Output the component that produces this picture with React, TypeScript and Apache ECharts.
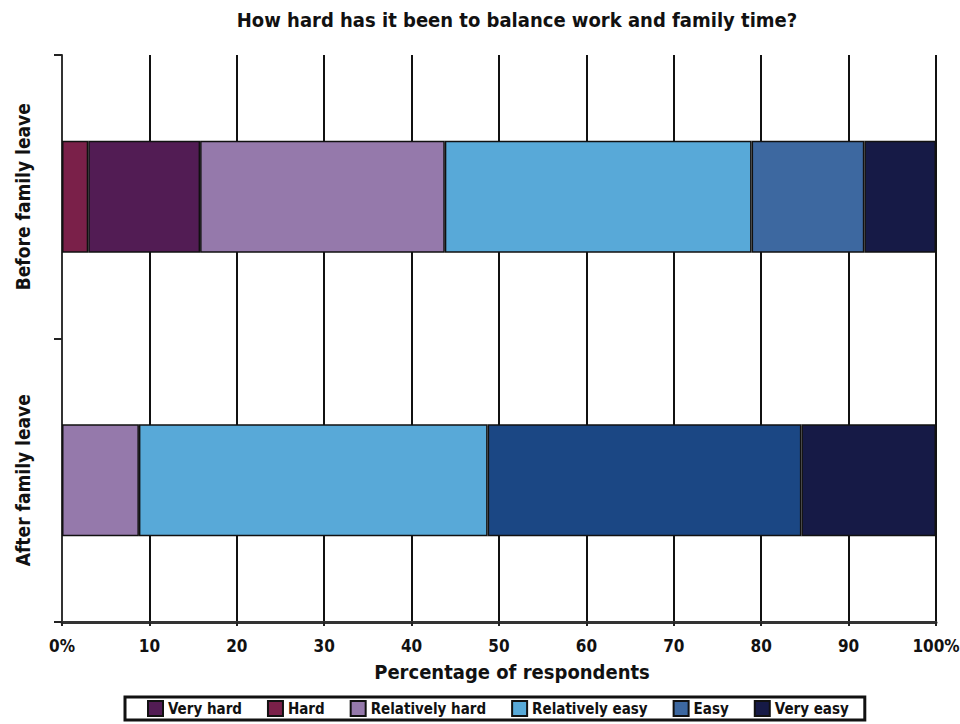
import React, { useEffect, useRef } from "react";
import * as echarts from "echarts";

const categories = ["Before family leave", "After family leave"];
const legendOrder = ["Very hard", "Hard", "Relatively hard", "Relatively easy", "Easy", "Very easy"];
// stacking order (left to right) as in the bars
const hard = [3.0, 0];
const veryHard = [12.8, 0];
const relHard = [28.0, 8.8];
const relEasy = [35.1, 39.9];
const easy = [12.9, 35.9];
const veryEasy = [8.2, 15.4];
const xTicks = [0, 10, 20, 30, 40, 50, 60, 70, 80, 90, 100];

const FONT = "'DejaVu Sans Condensed', 'Liberation Sans Narrow', 'DejaVu Sans', sans-serif";

export default function App() {
  const ref = useRef<HTMLDivElement>(null);
  useEffect(() => {
    if (!ref.current) return;
    const chart = echarts.init(ref.current, undefined, { renderer: "svg" });
    const mk = (name: string, data: number[], color: string, override?: (v: number, i: number) => any) => ({
      name,
      type: "bar",
      stack: "total",
      barWidth: 112,
      itemStyle: { color, borderColor: "#111", borderWidth: 1.5 },
      data: data.map((v, i) => {
        if (!v) return null;
        return override ? override(v, i) : v;
      }),
    });
    const option: any = {
      animation: false,
      backgroundColor: "#fff",
      title: {
        text: "How hard has it been to balance work and family time?",
        left: 512,
        textAlign: "center",
        top: 5,
        textStyle: { fontFamily: FONT, fontWeight: "bold", fontSize: 20, color: "#111" },
      },
      grid: { left: 62, right: 24, top: 55, bottom: 102, containLabel: false, outerBoundsMode: "none" },
      legend: {
        data: legendOrder,
        left: 125,
        top: 697,
        width: 743,
        padding: [3, 16, 3, 22],
        borderColor: "#111",
        borderWidth: 3,
        itemWidth: 15,
        itemHeight: 15,
        itemGap: 25,
        icon: "rect",
        textStyle: { fontFamily: FONT, fontWeight: "bold", fontSize: 15, color: "#111" },
      },
      xAxis: {
        type: "value",
        min: 0,
        max: 100,
        interval: 10,
        name: "Percentage of respondents",
        nameLocation: "middle",
        nameGap: 40,
        nameTextStyle: { fontFamily: FONT, fontWeight: "bold", fontSize: 20, color: "#111", padding: [0, 0, 0, 26] },
        axisLine: { show: true, lineStyle: { color: "#333", width: 3 } },
        axisTick: { show: true, length: 4, lineStyle: { color: "#222", width: 2 } },
        splitLine: { show: true, lineStyle: { color: "#111", width: 2 } },
        axisLabel: {
          margin: 15,
          fontFamily: FONT,
          fontWeight: "bold",
          fontSize: 17,
          color: "#111",
          customValues: xTicks,
          formatter: (v: number) => (v === 0 || v === 100 ? v + "%" : String(v)),
        },
      },
      yAxis: {
        type: "category",
        data: categories,
        inverse: true,
        axisLine: { show: true, lineStyle: { color: "#333", width: 2 } },
        axisTick: { show: true, length: 8, alignWithLabel: false, lineStyle: { color: "#222", width: 2 } },
        axisLabel: {
          rotate: 90,
          margin: 30,
          fontFamily: FONT,
          fontWeight: "bold",
          fontSize: 19,
          color: "#111",
        },
      },
      series: [
        mk("Hard", hard, "#7a2049"),
        mk("Very hard", veryHard, "#521c54"),
        mk("Relatively hard", relHard, "#9579ab"),
        mk("Relatively easy", relEasy, "#58a9d8"),
        mk("Easy", easy, "#3d68a0", (v, i) => (i === 1 ? { value: v, itemStyle: { color: "#1b4784" } } : v)),
        mk("Very easy", veryEasy, "#161a46"),
      ],
    };
    chart.setOption(option);
    return () => chart.dispose();
  }, []);
  return <div ref={ref} style={{ position: "absolute", left: 0, top: 0, width: 960, height: 724 }} />;
}
